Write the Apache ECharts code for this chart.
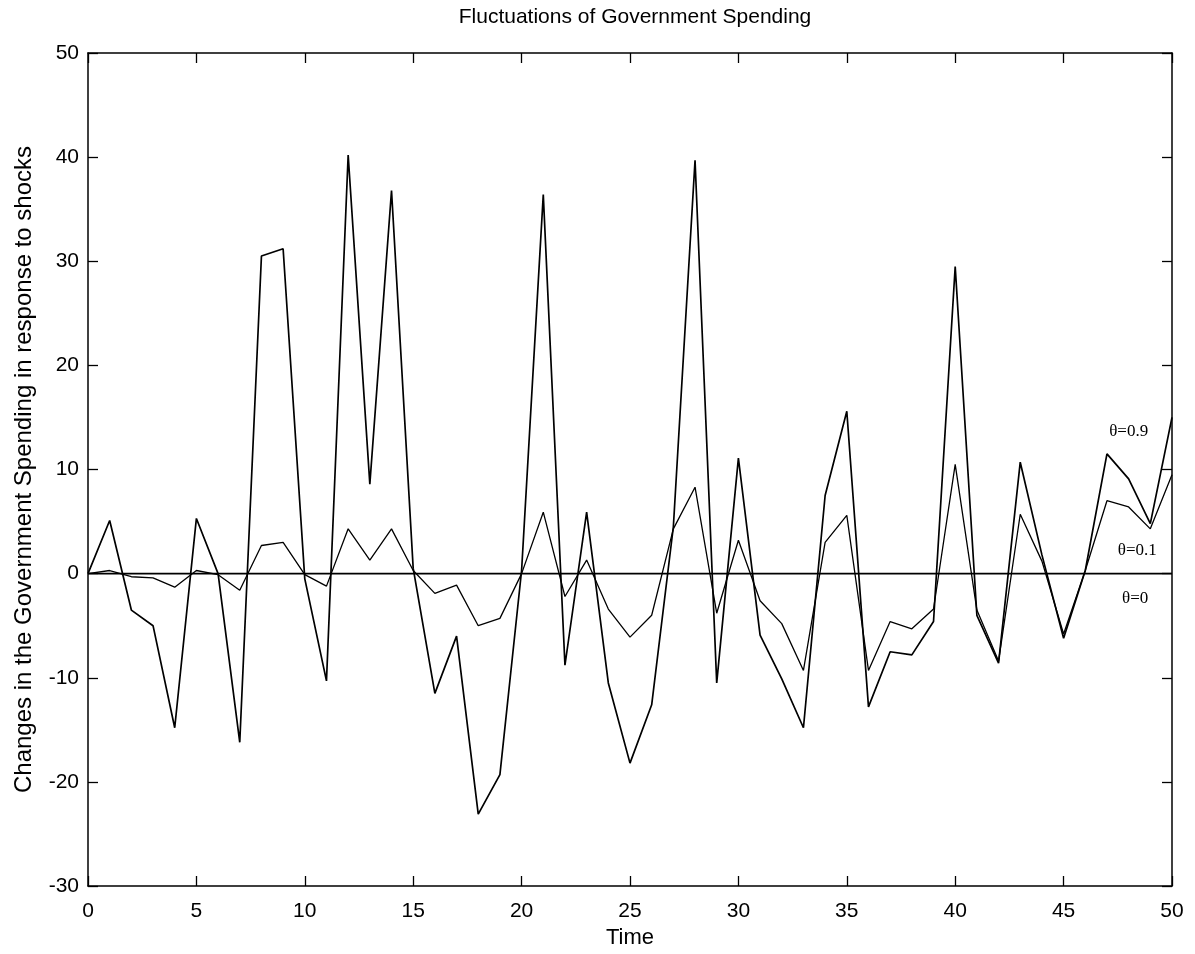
<!DOCTYPE html>
<html>
<head>
<meta charset="utf-8">
<title>Fluctuations of Government Spending</title>
<script src="https://cdn.jsdelivr.net/npm/echarts@6/dist/echarts.min.js"></script>
<style>
  html, body { margin: 0; padding: 0; background: #ffffff; }
  #chart { width: 1195px; height: 954px; }
</style>
</head>
<body>
<div id="chart"></div>
<script>
// Time periods 0..50
const periods = Array.from({ length: 51 }, (_, i) => i);

// Response of government spending to shocks, theta = 0.9
const theta09 = [
  0, 5.1, -3.5, -5.0, -14.8, 5.3, 0, -16.2, 30.5, 31.2,
  -0.5, -10.3, 40.2, 8.6, 36.8, 0.5, -11.5, -6.0, -23.1, -19.3,
  0.3, 36.4, -8.8, 5.9, -10.5, -18.2, -12.6, 4.5, 39.7, -10.5,
  11.1, -5.9, -10.1, -14.8, 7.5, 15.6, -12.8, -7.5, -7.8, -4.6,
  29.5, -4.0, -8.6, 10.7, 1.8, -6.2, 0.3, 11.5, 9.1, 4.8,
  15.0
];

// Response with theta = 0.1
const theta01 = [
  0, 0.3, -0.3, -0.4, -1.3, 0.3, -0.1, -1.6, 2.7, 3.0,
  -0.1, -1.2, 4.3, 1.3, 4.3, 0.3, -1.9, -1.1, -5.0, -4.3,
  0.0, 5.9, -2.2, 1.3, -3.4, -6.1, -4.0, 4.3, 8.3, -3.8,
  3.2, -2.6, -4.8, -9.3, 3.0, 5.6, -9.3, -4.6, -5.3, -3.4,
  10.5, -3.5, -8.4, 5.7, 1.2, -5.8, 0.3, 7.0, 6.4, 4.3,
  9.5
];

// Response with theta = 0 (no change)
const theta00 = periods.map(() => 0);

// Curve labels and where they sit (data coordinates)
const curveLabels = ['\u03b8=0.9', '\u03b8=0.1', '\u03b8=0'];
const curveLabelAt = [[48.0, 13.6], [48.4, 2.2], [48.3, -2.4]];

const xTicks = { min: 0, max: 50, interval: 5 };
const yTicks = { min: -30, max: 50, interval: 10 };

const pairs = (ys) => periods.map((t, i) => [t, ys[i]]);

const FONT = 'Liberation Sans, Arial, Helvetica, sans-serif';
const INK = '#000000';

const baseAxis = {
  axisLine: { show: true, onZero: false, lineStyle: { color: INK, width: 1.5 } },
  axisTick: { show: true, inside: true, length: 10, lineStyle: { color: INK, width: 1.3 } },
  splitLine: { show: false },
  minorTick: { show: false }
};

const chart = echarts.init(document.getElementById('chart'), null, { renderer: 'canvas' });

function labelPoint(i) {
  return {
    symbol: 'circle',
    symbolSize: 0,
    silent: true,
    data: [{
      coord: curveLabelAt[i],
      label: {
        show: true,
        position: 'inside',
        formatter: curveLabels[i],
        color: INK,
        fontFamily: 'Liberation Serif, Times New Roman, serif',
        fontSize: 17
      }
    }]
  };
}

chart.setOption({
  animation: false,
  backgroundColor: '#ffffff',
  title: {
    text: 'Fluctuations of Government Spending',
    left: 630,
    textAlign: 'center',
    top: 2,
    textStyle: { color: INK, fontFamily: FONT, fontSize: 21, fontWeight: 'normal' }
  },
  grid: { left: 88, right: 23, top: 53, bottom: 66, containLabel: false },
  xAxis: [
    Object.assign({}, baseAxis, {
      type: 'value',
      position: 'bottom',
      min: xTicks.min, max: xTicks.max, interval: xTicks.interval,
      name: 'Time',
      nameLocation: 'middle',
      nameGap: 41,
      nameTextStyle: { color: INK, fontFamily: FONT, fontSize: 22 },
      axisLabel: { color: INK, fontFamily: FONT, fontSize: 21, margin: 15 }
    }),
    Object.assign({}, baseAxis, {
      type: 'value',
      position: 'top',
      min: xTicks.min, max: xTicks.max, interval: xTicks.interval,
      axisLabel: { show: false }
    })
  ],
  yAxis: [
    Object.assign({}, baseAxis, {
      type: 'value',
      position: 'left',
      min: yTicks.min, max: yTicks.max, interval: yTicks.interval,
      name: 'Changes in the Government Spending in response to shocks',
      nameLocation: 'middle',
      nameGap: 52,
      nameRotate: 90,
      nameTextStyle: { color: INK, fontFamily: FONT, fontSize: 24 },
      axisLabel: { color: INK, fontFamily: FONT, fontSize: 21, margin: 9 }
    }),
    Object.assign({}, baseAxis, {
      type: 'value',
      position: 'right',
      min: yTicks.min, max: yTicks.max, interval: yTicks.interval,
      axisLabel: { show: false }
    })
  ],
  series: [
    {
      name: '\u03b8=0',
      type: 'line',
      data: pairs(theta00),
      showSymbol: false,
      lineStyle: { color: INK, width: 1.8 },
      markPoint: labelPoint(2),
      z: 3
    },
    {
      name: '\u03b8=0.1',
      type: 'line',
      data: pairs(theta01),
      showSymbol: false,
      lineStyle: { color: INK, width: 1.3 },
      markPoint: labelPoint(1),
      z: 4
    },
    {
      name: '\u03b8=0.9',
      type: 'line',
      data: pairs(theta09),
      showSymbol: false,
      lineStyle: { color: INK, width: 1.7 },
      markPoint: labelPoint(0),
      z: 5
    }
  ]
});
</script>
</body>
</html>
